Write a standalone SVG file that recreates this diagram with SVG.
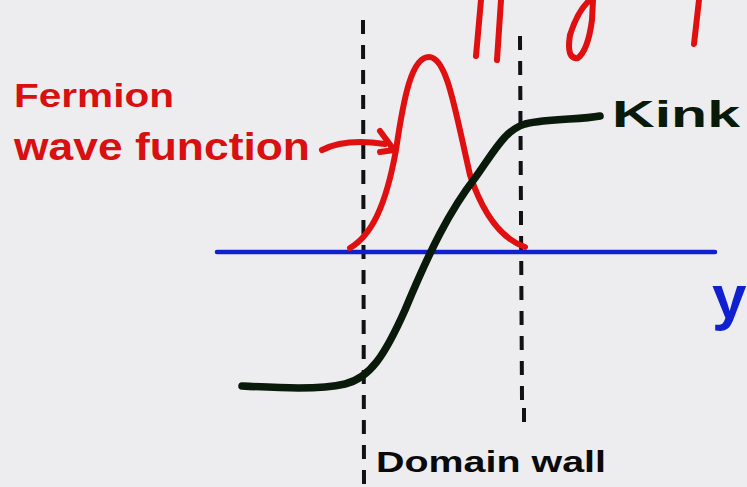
<svg xmlns="http://www.w3.org/2000/svg" width="747" height="487" viewBox="0 0 747 487">
<style>
.dash{stroke:#111;stroke-width:4;stroke-dasharray:14 11;fill:none}
.red{stroke:#e01010;stroke-width:6;fill:none;stroke-linecap:round;stroke-linejoin:round}
.blk{stroke:#0a1a0a;stroke-width:7.5;fill:none;stroke-linecap:round;stroke-linejoin:round}
.lbl{font-family:"Liberation Sans",Arial,sans-serif;font-weight:bold}
</style>
<rect width="747" height="487" fill="#ededf0"/>
<g id="top-marks">
<path class="red" d="M481 0 L476 56 M501 0 L497 60 M590 0 Q578 10 570 35 Q566 60 578 58 Q588 50 592 20 L593 0 M699 0 L694 44"/>
</g>
<g id="domain-walls">
<line class="dash" x1="363" y1="20" x2="364" y2="487"/>
<line class="dash" x1="520" y1="36" x2="522" y2="400"/>
<line class="dash" x1="524" y1="408" x2="524" y2="432"/>
</g>
<g id="axis">
<line x1="217" y1="252" x2="715" y2="252" stroke="#1020d0" stroke-width="4.5" stroke-linecap="round"/>
</g>
<g id="fermion">
<path class="red" d="M350 248 C372 235 386 205 396 150 C404 95 412 57 429 57 C447 57 455 110 470 175 C485 220 505 240 525 247"/>
</g>
<g id="kink">
<path class="blk" d="M242 386 C280 388 320 390 345 384 C370 378 385 355 405 310 C430 250 450 210 475 178 C495 150 505 130 525 124 C550 118 580 120 600 116"/>
</g>
<g id="connectors">
<path class="red" d="M322 150 Q345 138 385 144"/>
<path class="red" d="M380 131 L394 150 L380 152"/>
</g>
<g id="labels">
<text class="lbl" x="14" y="107" font-size="34" fill="#d81010" textLength="160" lengthAdjust="spacingAndGlyphs">Fermion</text>
<text class="lbl" x="14" y="160" font-size="38" fill="#d81010" textLength="296" lengthAdjust="spacingAndGlyphs">wave function</text>
<text class="lbl" x="612" y="127" font-size="36" fill="#0a1a0a" textLength="128" lengthAdjust="spacingAndGlyphs">Kink</text>
<text class="lbl" x="376" y="472" font-size="30" fill="#0a0a0a" textLength="230" lengthAdjust="spacingAndGlyphs">Domain wall</text>
<text class="lbl" x="712" y="318" font-size="62" fill="#1020d0">y</text>
</g>
</svg>
